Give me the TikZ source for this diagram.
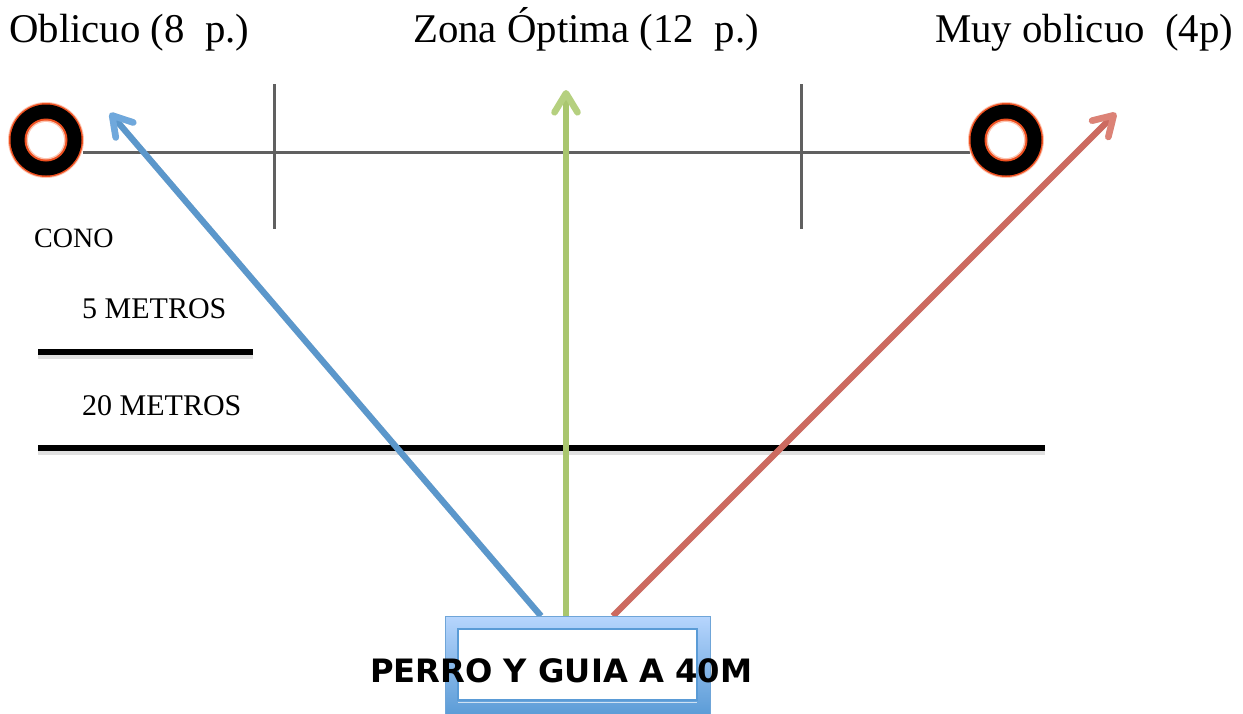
\documentclass[tikz,border=0pt]{standalone}
\usepackage{fontspec}
\setmainfont{Liberation Serif}
\newfontfamily\boldsans{DejaVu Sans}
\usetikzlibrary{arrows.meta}
\definecolor{bluearrow}{HTML}{5B97CB}
\definecolor{bluehead}{HTML}{6FA8DC}
\definecolor{greenarrow}{HTML}{A9C66E}
\definecolor{greenhead}{HTML}{B5D07F}
\definecolor{redarrow}{HTML}{CC6A60}
\definecolor{redhead}{HTML}{DC8276}
\definecolor{guide}{HTML}{606060}
\definecolor{ringedge}{HTML}{EE4F1F}
\definecolor{ringsoft}{HTML}{FBC4B0}
\definecolor{boxtop}{HTML}{B6D5FD}
\definecolor{boxbottom}{HTML}{5A9BD6}
\definecolor{boxedge}{HTML}{6FA5D8}
\tikzset{
  x=1pt,y=-1pt,
  title/.style={anchor=base west,inner sep=0pt,font=\fontsize{40.8}{44}\selectfont},
  label/.style={anchor=base west,inner sep=0pt,font=\fontsize{30}{32}\selectfont},
  guideline/.style={draw=guide,line width=3pt},
  thick rule/.style={draw=black,line width=5.4pt},
  rule shadow/.style={draw=black,opacity=.12,line width=6pt},
  shot/.style={line width=6.2pt},
  shot blue/.style={shot,draw=bluearrow,-{Straight Barb[round,length=19pt,width=23pt,line width=6.6pt,color=bluehead]}},
  shot green/.style={shot,draw=greenarrow,-{Straight Barb[round,length=19pt,width=23pt,line width=6.6pt,color=greenhead]}},
  shot red/.style={shot,draw=redarrow,-{Straight Barb[round,length=19pt,width=23pt,line width=6.6pt,color=redhead]}},
  shot shadow/.style={shot,draw=black,opacity=.12,-{Straight Barb[round,length=19pt,width=23pt,line width=6.6pt]}},
}
\newcommand{\ring}[2]{%
  \fill[ringsoft] (#1,#2) circle[radius=38pt];
  \fill[ringedge] (#1,#2) circle[radius=37pt];
  \fill[black] (#1,#2) circle[radius=35.5pt];
  \fill[ringedge] (#1,#2) circle[radius=21.5pt];
  \fill[ringsoft] (#1,#2) circle[radius=19.5pt];
  \fill[white] (#1,#2) circle[radius=18pt];
}
\begin{document}
\begin{tikzpicture}
\useasboundingbox (0,0) rectangle (1243,713);
% free ends
\coordinate (blueTip) at (110,113);
\coordinate (greenTip) at (566,90);
\coordinate (redTip) at (1116,113);
\coordinate (blueStart) at (541,616);
\coordinate (greenStart) at (566,616);
\coordinate (redStart) at (613,616);
\coordinate (hL) at (83,152);
\coordinate (hR) at (970,152);
\coordinate (v1T) at (274,84);
\coordinate (v1B) at (274,229);
\coordinate (v2T) at (801,84);
\coordinate (v2B) at (801,229);
\coordinate (r1L) at (38,352);
\coordinate (r1R) at (253,352);
\coordinate (r2L) at (38,448);
\coordinate (r2R) at (1045,448);
% titles
\node[title] (t1) at (9,42) {Oblicuo (8\ \ p.)};
\node[title] (t2) at (413,42) {Zona Óptima (12\ \ p.)};
\node[title] (t3) at (935,42) {Muy oblicuo\ \ (4p)};
% targets and guide lines
\draw[guideline] (hL) -- (hR);
\draw[guideline] (v1T) -- (v1B);
\draw[guideline] (v2T) -- (v2B);
\ring{46}{140}
\ring{1006}{140}
% rules
\draw[rule shadow] ([yshift=-4pt]r1L) -- ([yshift=-4pt]r1R);
\draw[rule shadow] ([yshift=-4pt]r2L) -- ([yshift=-4pt]r2R);
\draw[thick rule] (r1L) -- (r1R);
\draw[thick rule] (r2L) -- (r2R);
% arrows
\begin{scope}[shift={(3,3)}]
\draw[shot shadow] (blueStart) -- (blueTip);
\draw[shot shadow] (redStart) -- (redTip);
\end{scope}
\draw[shot blue] (blueStart) -- (blueTip);
\draw[shot green] (greenStart) -- (greenTip);
\draw[shot red] (redStart) -- (redTip);
% labels
\node[label,font=\fontsize{28}{30}\selectfont] (cono) at (34,247) {CONO};
\node[label] (m5) at (82,318) {5 METROS};
\node[label] (m20) at (82,415) {20 METROS};
% dog box
\shade[top color=boxtop,bottom color=boxbottom,draw=boxedge,line width=1pt] (445.5,616.5) rectangle (710.5,716);
\fill[black,opacity=.25] (458,628) rectangle (697,632);
\filldraw[fill=white,draw=boxbottom,line width=2pt] (458,629) rectangle (697,700);
\draw[white!70!boxbottom,line width=1pt] (458,702) -- (697,702);
\node[anchor=base west,inner sep=0pt,font=\boldsans\bfseries\fontsize{32.2}{34}\selectfont] (dog) at (370,682) {PERRO Y GUIA A 40M};
\end{tikzpicture}
\end{document}
